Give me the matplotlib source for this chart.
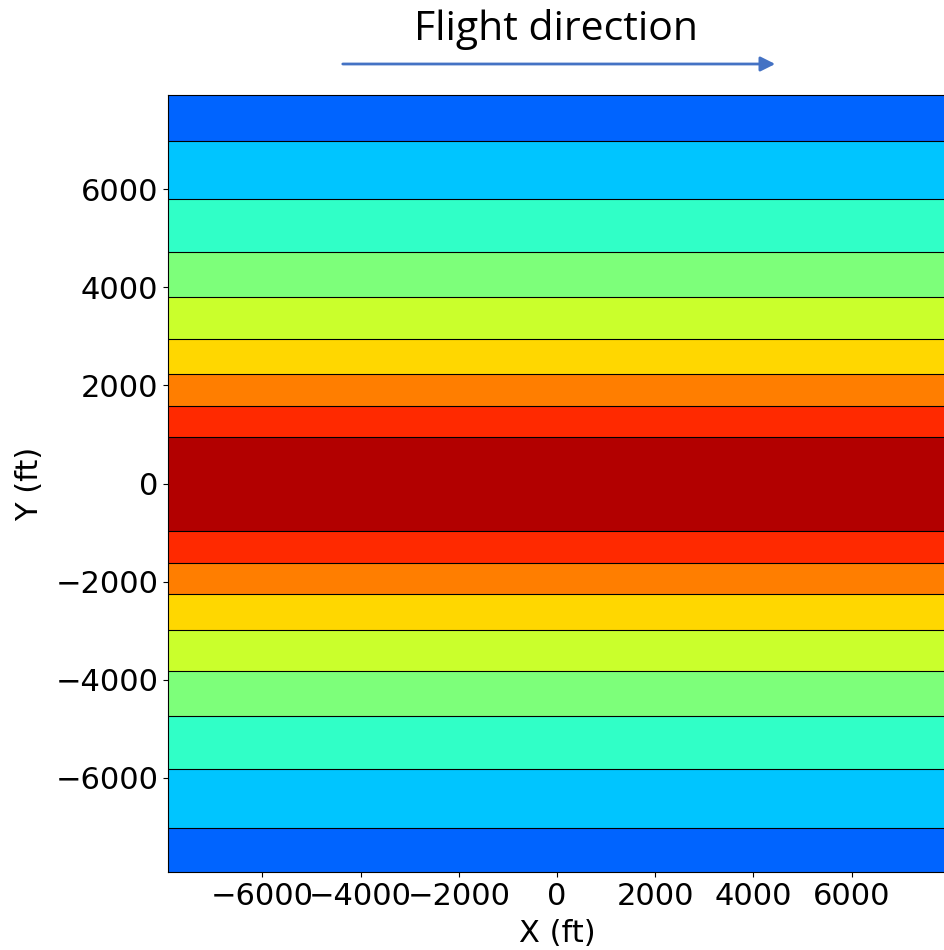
import matplotlib
matplotlib.use("Agg")
import matplotlib.pyplot as plt
import numpy as np

# band boundaries (ft), bottom to top
boundaries = [-7020, -5827, -4744, -3829, -2982, -2256, -1614, -976,
              947, 1585, 2228, 2947, 3801, 4715, 5793, 6992]
lim = 7920

# jet positions of the band colours, bottom to top
band_jet = [0.223, 0.32, 0.41, 0.50, 0.595, 0.683, 0.775, 0.867, 0.955,
            0.867, 0.775, 0.683, 0.595, 0.50, 0.41, 0.32, 0.223]

x = np.linspace(-lim, lim, 50)
y = np.linspace(-lim, lim, 800)
X, Y = np.meshgrid(x, y)

levels = [-lim] + boundaries + [lim]
colors = [plt.cm.jet(v) for v in band_jet]

fig = plt.figure(figsize=(9.44, 9.5), dpi=100)
ax = fig.add_axes([168 / 944, 78 / 950, 778 / 944, 777 / 950])

ax.contourf(X, Y, Y, levels=levels, colors=colors)
ax.contour(X, Y, Y, levels=boundaries, colors='k', linewidths=0.8,
           linestyles='solid')

ax.set_xlim(-lim, lim)
ax.set_ylim(-lim, lim)
ax.set_xticks([-6000, -4000, -2000, 0, 2000, 4000, 6000])
ax.set_yticks([-6000, -4000, -2000, 0, 2000, 4000, 6000])
ax.tick_params(labelsize=22)
ax.set_xlabel("X (ft)", fontsize=22, labelpad=6)
ax.set_ylabel("Y (ft)", fontsize=22, labelpad=8)

fig.text(556 / 944, 1 - 29 / 950, "Flight direction", fontsize=29.5,
         family="Open Sans", ha="center", va="center")
fig.add_artist(matplotlib.patches.FancyArrowPatch(
    (340 / 944, 1 - 64 / 950), (778 / 944, 1 - 64 / 950),
    transform=fig.transFigure, arrowstyle="-|>", mutation_scale=22,
    color="#4472C4", linewidth=2))

fig.savefig("out.png", dpi=100)
